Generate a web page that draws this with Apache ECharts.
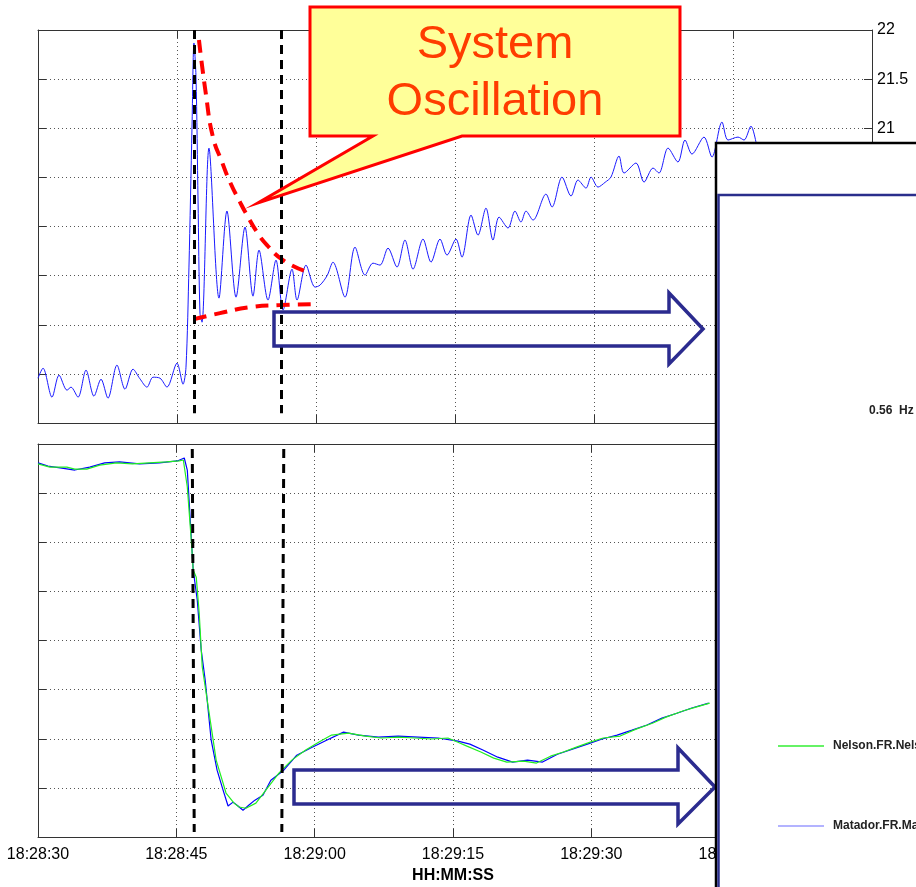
<!DOCTYPE html>
<html><head><meta charset="utf-8">
<script src="https://cdn.jsdelivr.net/npm/echarts@6.0.0/dist/echarts.min.js"></script>
<style>html,body{margin:0;padding:0;background:#fff}#c{width:916px;height:887px}</style>
</head><body><div id="c"></div>
<script>
// time axis: seconds after 18:28:30
const timeLabels = ['18:28:30','18:28:45','18:29:00','18:29:15','18:29:30','18:29:45','18:30:00'];
const topAxisRange = [18, 22, 0.5];
const bottomAxisRange = [59.88, 60.04, 0.02];

// upper panel: oscillating signal
const topSignal = [
 [0,18.456],[0.54,18.558],[1.51,18.263],[2.27,18.487],[3.13,18.334],[3.56,18.365],[4.32,18.263],
 [5.18,18.538],[6.04,18.273],[6.80,18.446],[7.55,18.253],[8.52,18.589],[9.39,18.344],[10.25,18.548],
 [11.0,18.45],[11.76,18.365],[12.41,18.466],[13.17,18.456],[13.92,18.365],[15.00,18.609],[15.65,18.395],
 [15.97,18.568],[16.29,19.587],[16.62,21.012],[16.83,21.868],[17.05,21.521],[17.27,20.269],[17.48,19.118],
 [17.70,19.026],[18.45,20.798],[19.53,19.271],[20.39,20.157],[21.37,19.281],[22.34,19.994],[23.20,19.291],
 [23.85,19.760],[24.82,19.251],[25.68,19.658],[26.44,19.149],[27.41,19.566],[27.95,19.251],[28.92,19.607],
 [29.89,19.383],[30.43,19.403],[31.2,19.50],[31.83,19.637],[33.13,19.281],[34.21,19.790],[35.29,19.505],
 [36.15,19.627],[36.91,19.607],[37.77,19.780],[38.74,19.587],[39.60,19.862],[40.47,19.566],[41.55,19.872],
 [42.41,19.637],[43.38,19.872],[44.14,19.709],[45.11,19.872],[45.75,19.688],[46.73,20.116],[47.48,19.912],
 [48.34,20.187],[49.10,19.862],[49.75,20.096],[50.72,19.984],[51.47,20.157],[52.12,20.045],[52.66,20.157],
 [53.42,20.065],[54.82,20.330],[55.47,20.198],[56.55,20.503],[57.52,20.310],[58.27,20.473],[59.14,20.391],
 [59.68,20.503],[60.43,20.401],[61.2,20.45],[61.83,20.503],[62.70,20.717],[63.24,20.544],[64.53,20.646],
 [65.40,20.452],[66.37,20.595],[67.01,20.544],[67.99,20.798],[69.06,20.656],[69.82,20.880],[70.57,20.737],
 [71.87,20.910],[72.73,20.707],[73.81,21.063],[74.46,20.880],[75.54,20.910],[76.19,20.880],[76.94,21.022],
 [77.48,20.859]
];
const envelopeUpper = [[17.37,21.898],[18.13,21.338],[18.88,20.910],[19.86,20.656],[20.72,20.452],[21.80,20.248],
 [22.55,20.116],[23.63,19.943],[24.71,19.811],[26.44,19.658],[28.81,19.546]];
const envelopeLower = [[16.83,19.057],[19.64,19.118],[22.88,19.179],[26.12,19.200],[29.57,19.210]];

// lower panel: two frequency traces
const nelsonFreq = [
 [0,60.0319],[1.29,60.0306],[3.13,60.0306],[3.99,60.0298],[5.29,60.0298],[6.69,60.0314],[8.52,60.0323],
 [10.25,60.0319],[12.09,60.0323],[13.92,60.0327],[15.32,60.0331],[15.76,60.0335],[16.19,60.0225],
 [16.62,60.0009],[16.83,59.9887],[17.16,59.9858],[17.48,59.9712],[17.81,59.9492],[18.56,59.9304],
 [19.32,59.9113],[20.39,59.8979],[21.26,59.8938],[21.80,59.8922],[22.55,59.8917],[23.63,59.8938],
 [24.71,59.8991],[26.12,59.9060],[27.52,59.9113],[29.03,59.9154],[30.43,59.9186],[31.83,59.9215],
 [33.67,59.9223],[35.50,59.9211],[37.23,59.9203],[39.06,59.9207],[40.90,59.9203],[42.63,59.9199],
 [44.46,59.9203],[45.54,59.9186],[46.51,59.9170],[48.02,59.9146],[49.42,59.9121],[50.83,59.9105],
 [52.66,59.9109],[54.06,59.9101],[55.58,59.9129],[56.98,59.9146],[58.38,59.9166],[59.89,59.9186],
 [61.29,59.9203],[63.13,59.9211],[64.86,59.9239],[66.69,59.9264],[68.09,59.9288],[69.93,59.9313],
 [71.33,59.9329],[72.84,59.9345]
];
const matadorFreq = [
 [0,60.0323],[1.08,60.0310],[2.59,60.0302],[3.99,60.0294],[5.61,60.0306],[7.23,60.0323],[8.85,60.0327],
 [11.01,60.0319],[13.17,60.0323],[15.11,60.0331],[15.86,60.0343],[16.19,60.0294],[16.51,60.0090],
 [16.83,59.9887],[17.27,59.9765],[17.70,59.9561],[18.13,59.9439],[18.78,59.9194],[19.42,59.9072],
 [20.07,59.8991],[20.61,59.8926],[21.15,59.8942],[21.69,59.8926],[22.23,59.8909],[22.88,59.8930],
 [23.52,59.8950],[24.39,59.8970],[25.25,59.9031],[26.65,59.9072],[28.06,59.9133],[29.57,59.9162],
 [31.29,59.9194],[33.13,59.9227],[34.75,59.9215],[36.91,59.9207],[39.06,59.9211],[41.22,59.9207],
 [43.38,59.9203],[45.54,59.9190],[46.83,59.9178],[48.24,59.9154],[49.86,59.9125],[51.47,59.9105],
 [53.09,59.9113],[54.71,59.9105],[56.33,59.9137],[57.95,59.9158],[59.57,59.9178],[61.18,59.9199],
 [62.80,59.9215],[64.42,59.9235],[66.04,59.9256],[67.66,59.9284],[69.28,59.9304],[70.90,59.9325],
 [72.73,59.9345]
];
const eventMarksTop = [16.83, 26.2];
const eventMarksBottom = [[16.73,16.94],[26.65,26.44]];
const legendNames = ['Nelson.FR.Nelson', 'Matador.FR.Matador'];
const annotationText = ['System', 'Oscillation'];
const modeText = '0.56  Hz';

const FONT = '"Liberation Sans", Arial, sans-serif';
const frame = {color:'#333', width:1};
const dotted = {type:[1,3], color:'#555', width:1};

function xAx(grid, pos, labels) {
  const a = {gridIndex:grid, type:'value', min:0, max:90, interval:15, position:pos,
    axisLine:{show:true, onZero:false, lineStyle:frame},
    axisTick:{show:true, inside:true, length:8, lineStyle:frame},
    axisLabel:{show:false},
    splitLine:{show:pos==='bottom', lineStyle:dotted}};
  if (labels) {
    a.axisLabel = {show:true, fontSize:16, color:'#000', fontFamily:FONT, margin:10,
      formatter: v => timeLabels[Math.round(v/15)]};
    a.name = 'HH:MM:SS'; a.nameLocation = 'middle'; a.nameGap = 31;
    a.nameTextStyle = {fontWeight:'bold', fontSize:16, color:'#000', fontFamily:FONT};
  }
  return a;
}
function yAx(grid, pos, r) {
  return {gridIndex:grid, type:'value', min:r[0], max:r[1], interval:r[2], position:pos,
    axisLine:{show:true, onZero:false, lineStyle:frame},
    axisTick:{show:true, inside:true, length:8, lineStyle:frame},
    axisLabel:{show:pos==='right', fontSize:16, color:'#000', fontFamily:FONT, margin:5},
    splitLine:{show:pos==='right', lineStyle:dotted}};
}

const blackDash = {color:'#000', width:3, type:[9,6]};
const chart = echarts.init(document.getElementById('c'));
chart.setOption({
  animation:false,
  backgroundColor:'#fff',
  grid:[{left:38, top:30, width:834, height:393}, {left:38, top:444, width:834, height:393}],
  xAxis:[xAx(0,'bottom',false), xAx(0,'top',false), xAx(1,'bottom',true), xAx(1,'top',false)],
  yAxis:[yAx(0,'right',topAxisRange), yAx(0,'left',topAxisRange), yAx(1,'right',bottomAxisRange), yAx(1,'left',bottomAxisRange)],
  series:[
    {type:'line', xAxisIndex:0, yAxisIndex:0, data:topSignal, showSymbol:false, smooth:0.3,
     lineStyle:{color:'#1a1aff', width:1}, z:2,
     markLine:{silent:true, symbol:'none', label:{show:false}, lineStyle:blackDash,
       data: eventMarksTop.map(t => [{coord:[t,22]},{coord:[t,18.1]}])}},
    {type:'line', xAxisIndex:0, yAxisIndex:0, data:envelopeUpper, showSymbol:false, smooth:true,
     lineStyle:{color:'#ff0000', width:4, type:[13,8]}, z:4},
    {type:'line', xAxisIndex:0, yAxisIndex:0, data:envelopeLower, showSymbol:false, smooth:true,
     lineStyle:{color:'#ff0000', width:4, type:[13,8]}, z:4},
    {type:'line', xAxisIndex:2, yAxisIndex:2, data:matadorFreq, showSymbol:false,
     lineStyle:{color:'#0000ff', width:1.2}, z:2},
    {type:'line', xAxisIndex:2, yAxisIndex:2, data:nelsonFreq, showSymbol:false,
     lineStyle:{color:'#22ee22', width:1.2}, z:3,
     markLine:{silent:true, symbol:'none', label:{show:false}, lineStyle:blackDash,
       data: eventMarksBottom.map(p => [{coord:[p[0],60.038]},{coord:[p[1],59.882]}])}}
  ],
  graphic:[
    {type:'polygon', z:50, shape:{points:[[310,7],[680,7],[680,136],[462,136],[258,203],[373,136],[310,136]]},
     style:{fill:'#ffff99', stroke:'#ff0000', lineWidth:3, lineJoin:'miter'}},
    {type:'text', z:51, x:495, y:45, style:{text:annotationText[0], fill:'#ff3c00', font:'47px '+FONT, textAlign:'center', textVerticalAlign:'middle'}},
    {type:'text', z:51, x:495, y:102, style:{text:annotationText[1], fill:'#ff3c00', font:'47px '+FONT, textAlign:'center', textVerticalAlign:'middle'}},
    {type:'polygon', z:55, shape:{points:[[274,312],[669,312],[669,293],[703,329],[669,364],[669,346],[274,346]]},
     style:{fill:null, stroke:'#2b2b8f', lineWidth:3.5, lineJoin:'miter'}},
    {type:'polygon', z:55, shape:{points:[[294,770],[678,770],[678,748],[715,787],[678,824],[678,804],[294,804]]},
     style:{fill:null, stroke:'#2b2b8f', lineWidth:3.5, lineJoin:'miter'}},
    {type:'rect', z:60, shape:{x:716, y:143, width:220, height:760}, style:{fill:'#fff', stroke:'#000', lineWidth:2.5}},
    {type:'rect', z:61, shape:{x:718.5, y:195, width:220, height:720}, style:{fill:'#fff', stroke:'#2a2e8c', lineWidth:2.5}},
    {type:'text', z:62, x:869, y:411, style:{text:modeText, fill:'#222', font:'bold 12px '+FONT, textVerticalAlign:'middle'}},
    {type:'line', z:62, shape:{x1:778, y1:746, x2:824, y2:746}, style:{stroke:'#33ee33', lineWidth:1.5}},
    {type:'text', z:62, x:833, y:746, style:{text:legendNames[0], fill:'#222', font:'bold 12px '+FONT, textVerticalAlign:'middle'}},
    {type:'line', z:62, shape:{x1:778, y1:826, x2:824, y2:826}, style:{stroke:'#9a9aff', lineWidth:1.5}},
    {type:'text', z:62, x:833, y:826, style:{text:legendNames[1], fill:'#222', font:'bold 12px '+FONT, textVerticalAlign:'middle'}}
  ]
});
</script></body></html>
